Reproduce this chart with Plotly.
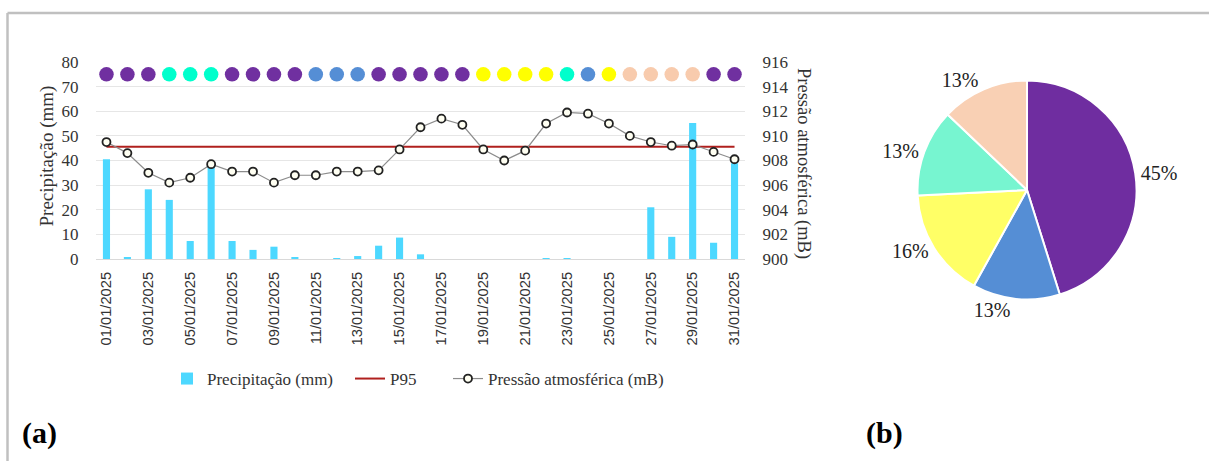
import plotly.graph_objects as go

W, H = 1209, 461

dias = list(range(1, 32))
datas = [f"{d:02d}/01/2025" for d in dias]
precip = [40.5, 0.5, 28.3, 24.0, 7.3, 38.0, 7.3, 3.7, 5.0, 0.5, 0.0, 0.3, 1.2, 5.4, 8.7, 1.9,
          0, 0, 0, 0, 0, 0.3, 0.3, 0, 0, 0, 21.0, 9.0, 55.2, 6.6, 38.9]
pressao = [909.5, 908.6, 907.0, 906.2, 906.6, 907.7, 907.1, 907.1, 906.2, 906.8, 906.8, 907.1,
           907.1, 907.2, 908.9, 910.7, 911.4, 910.9, 908.9, 908.0, 908.8, 911.0, 911.9, 911.8,
           911.0, 910.0, 909.5, 909.2, 909.3, 908.7, 908.1]
p95 = 45.6
nivel_classes = 75
classe_dia = [0, 0, 0, 3, 3, 3, 0, 0, 0, 0, 1, 1, 1, 0, 0, 0, 0, 0, 2, 2, 2, 2, 3, 1, 2,
              4, 4, 4, 4, 0, 0]
classes = ["Classe 1", "Classe 2", "Classe 3", "Classe 4", "Classe 5"]
freq_classes = [14, 4, 5, 4, 4]

cores_pontos = ["#7030a0", "#558ed5", "#ffff00", "#00ffcc", "#f8cbad"]
cores_pizza = ["#6f2da0", "#558ed5", "#ffff66", "#77f5d0", "#f9d0b4"]

serif = "Liberation Serif"

def px_x(x):
    return x / W

def px_y(y):
    return 1 - y / H

fig = go.Figure()

fig.add_trace(go.Bar(x=dias, y=precip, name="Precipitação (mm)", marker_color="#4dd8ff",
                     width=0.34, xaxis="x", yaxis="y", legend="legend"))
fig.add_trace(go.Scatter(x=dias, y=[p95] * len(dias), name="P95", mode="lines",
                         line=dict(color="#b0201e", width=2), xaxis="x", yaxis="y",
                         legend="legend2"))
fig.add_trace(go.Scatter(x=dias, y=pressao, name="Pressão atmosférica (mB)", mode="lines+markers",
                         line=dict(color="#8c8c8c", width=1.2),
                         marker=dict(size=8, color="#fffff2", line=dict(color="#222222", width=1.8)),
                         xaxis="x", yaxis="y2", legend="legend3"))
fig.add_trace(go.Scatter(x=dias, y=[nivel_classes] * len(dias), mode="markers", showlegend=False,
                         marker=dict(size=14.5, color=[cores_pontos[c] for c in classe_dia]),
                         xaxis="x", yaxis="y"))

fig.add_trace(go.Pie(labels=classes, values=freq_classes, sort=False, direction="clockwise",
                     rotation=0, marker=dict(colors=cores_pizza, line=dict(color="white", width=2)),
                     textposition="outside", texttemplate="%{percent:.0%}",
                     textfont=dict(family=serif, size=20, color="#222"), showlegend=False,
                     automargin=False,
                     domain=dict(x=[px_x(1027 - 109.5), px_x(1027 + 109.5)],
                                 y=[px_y(299.5), px_y(80.5)])))

leg_common = dict(orientation="h", yanchor="middle", xanchor="left", y=px_y(379),
                  font=dict(family=serif, size=17, color="#333"), itemwidth=30,
                  bgcolor="rgba(0,0,0,0)")

fig.update_layout(
    template="none",
    width=W, height=H,
    margin=dict(l=0, r=0, t=0, b=0, autoexpand=False),
    paper_bgcolor="white", plot_bgcolor="white",
    barmode="overlay",
    xaxis=dict(domain=[px_x(96), px_x(745)], range=[0.5, 31.5], tickvals=dias[::2],
               ticktext=datas[::2], tickangle=-90, showgrid=False, showline=True,
               linecolor="#d9d9d9", linewidth=1, ticks="outside", ticklen=6,
               tickcolor="rgba(0,0,0,0)", automargin=False, zeroline=False,
               tickfont=dict(family="Liberation Sans", size=14.7, color="#333")),
    yaxis=dict(domain=[px_y(259), px_y(62)], range=[0, 80], dtick=10, showgrid=True,
               gridcolor="#e6e6e6", gridwidth=1, zeroline=False, ticks="outside", ticklen=13,
               tickcolor="rgba(0,0,0,0)", automargin=False, showline=False,
               tickfont=dict(family=serif, size=17, color="#333")),
    yaxis2=dict(overlaying="y", side="right", anchor="x", range=[900, 916], dtick=2,
                showgrid=False, zeroline=False, ticks="outside", ticklen=13,
                tickcolor="rgba(0,0,0,0)", automargin=False, showline=False,
                tickfont=dict(family=serif, size=17, color="#333")),
    legend=dict(x=px_x(167), **leg_common),
    legend2=dict(x=px_x(350), **leg_common),
    legend3=dict(x=px_x(448), **leg_common),
    shapes=[
        dict(type="line", xref="paper", yref="paper", x0=px_x(7.5), x1=1,
             y0=px_y(13), y1=px_y(13), line=dict(color="#c0c0c0", width=2.5)),
        dict(type="line", xref="paper", yref="paper", x0=px_x(7.5), x1=px_x(7.5),
             y0=0, y1=px_y(13), line=dict(color="#c0c0c0", width=2.5)),
    ],
    annotations=[
        dict(text="Precipitação (mm)", xref="paper", yref="paper", x=px_x(46.5), y=px_y(156),
             xanchor="center", yanchor="middle",
             textangle=-90, showarrow=False, font=dict(family=serif, size=19, color="#333")),
        dict(text="Pressão atmosférica (mB)", xref="paper", yref="paper", x=px_x(803), y=px_y(163),
             xanchor="center", yanchor="middle",
             textangle=90, showarrow=False, font=dict(family=serif, size=18.5, color="#333")),
        dict(text="<b>(a)</b>", xref="paper", yref="paper", x=px_x(39), y=px_y(433),
             xanchor="center", yanchor="middle",
             showarrow=False, font=dict(family=serif, size=30, color="black")),
        dict(text="<b>(b)</b>", xref="paper", yref="paper", x=px_x(884), y=px_y(433),
             xanchor="center", yanchor="middle",
             showarrow=False, font=dict(family=serif, size=30, color="black")),
    ],
)

fig.write_html("out.html", config={"displayModeBar": False},
               post_script="document.body.style.margin='0px';")
